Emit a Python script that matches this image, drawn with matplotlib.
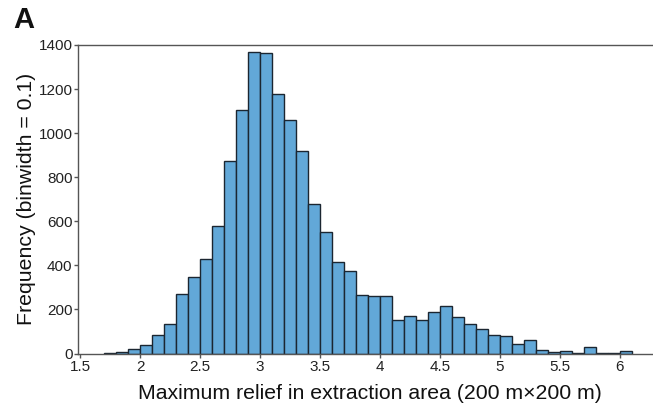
import numpy as np
import matplotlib
matplotlib.use("Agg")
import matplotlib.pyplot as plt

plt.rcParams['font.family'] = ['Liberation Sans', 'DejaVu Sans']

bin_width = 0.1
bin_lefts = [1.7, 1.8, 1.9, 2.0, 2.1, 2.2, 2.3, 2.4, 2.5, 2.6, 2.7, 2.8, 2.9,
             3.0, 3.1, 3.2, 3.3, 3.4, 3.5, 3.6, 3.7, 3.8, 3.9,
             4.0, 4.1, 4.2, 4.3, 4.4, 4.5, 4.6, 4.7, 4.8, 4.9,
             5.0, 5.1, 5.2, 5.3, 5.4, 5.5, 5.6, 5.7, 5.8, 5.9, 6.0]
counts = [2, 8, 20, 37, 86, 135, 270, 345, 427, 580, 875, 1105, 1370,
          1363, 1176, 1060, 919, 679, 553, 415, 373, 264, 262,
          260, 151, 169, 151, 187, 217, 164, 133, 110, 83,
          78, 43, 61, 16, 5, 11, 2, 29, 3, 3, 13]

x_ticks = [1.5, 2, 2.5, 3, 3.5, 4, 4.5, 5, 5.5, 6]
x_ticklabels = ["1.5", "2", "2.5", "3", "3.5", "4", "4.5", "5", "5.5", "6"]
y_ticks = [0, 200, 400, 600, 800, 1000, 1200, 1400]

fig = plt.figure(figsize=(6.53, 4.09), dpi=100)
ax = fig.add_axes([78/653, 1-353.5/409, (652-78)/653, (353.5-45)/409])

ax.bar(bin_lefts, counts, width=bin_width, align='edge',
       color='#62a8d8', edgecolor='#1b2631', linewidth=1.0, zorder=2)

ax.set_xlim(1.4833, 6.2667)
ax.set_ylim(0, 1400)
ax.set_xticks(x_ticks)
ax.set_xticklabels(x_ticklabels)
ax.set_yticks(y_ticks)

spine_color = '#555555'
for s in ['left', 'bottom', 'top']:
    ax.spines[s].set_color(spine_color)
    ax.spines[s].set_linewidth(1.0)
ax.spines['right'].set_visible(False)

ax.tick_params(axis='both', direction='out', length=3.2, width=1, color=spine_color,
               labelsize=11, labelcolor='#222222')
ax.tick_params(axis='y', pad=0.8)
ax.tick_params(axis='x', pad=1.5)

ax.set_xlabel("Maximum relief in extraction area (200 m×200 m)", fontsize=15.3,
              color='#111111')
ax.xaxis.label.set_va('baseline')
ax.xaxis.set_label_coords(0.508, (353.5 - 399.3) / 308.5)

ax.set_ylabel("Frequency (binwidth = 0.1)", fontsize=15.3, color='#111111')
ax.yaxis.label.set_rotation_mode('anchor')
ax.yaxis.label.set_va('baseline')
ax.yaxis.label.set_ha('center')
ax.yaxis.set_label_coords((31.7 - 78) / 574, 0.5)

fig.text(13 / 653, 1 - 28.3 / 409, "A", fontsize=21, fontweight='bold',
         color='#111111', va='baseline', ha='left')

fig.savefig("out.png", dpi=100)
